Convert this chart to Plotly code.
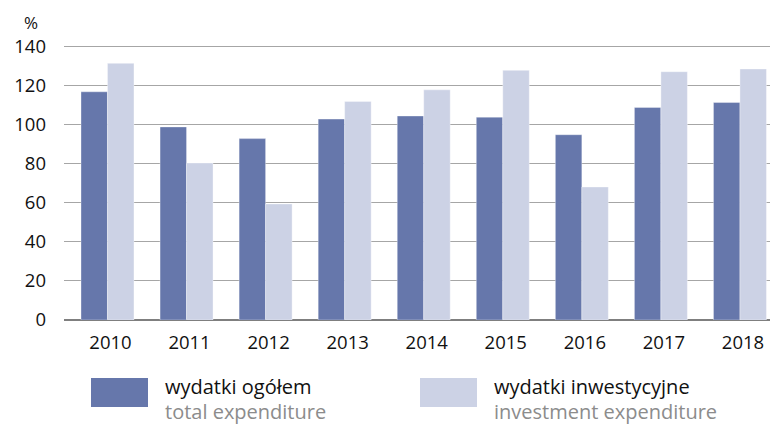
import plotly.graph_objects as go

years = ["2010", "2011", "2012", "2013", "2014", "2015", "2016", "2017", "2018"]
total_exp = [117, 99, 93, 103, 104.6, 104, 95, 109, 111.5]
invest_exp = [131.6, 80.5, 59.5, 112, 118, 128, 68.2, 127.3, 128.7]
y_ticks = [0, 20, 40, 60, 80, 100, 120, 140]

DARK = "#6677ab"
LIGHT = "#ccd2e5"
FONT = "Open Sans, Noto Sans, sans-serif"

W, H = 770, 424
L, R, T, B = 64, 0, 45, 104
PW, PH = W - L - R, H - T - B


def px(x):
    return (x - L) / PW


def py(y):
    return (H - B - y) / PH


fig = go.Figure()
fig.add_trace(go.Bar(x=years, y=total_exp, marker=dict(color=DARK, line=dict(color="rgba(255,255,255,0.35)", width=1)),
                     name="wydatki ogółem", showlegend=False))
fig.add_trace(go.Bar(x=years, y=invest_exp, marker=dict(color=LIGHT, line=dict(color="rgba(255,255,255,0.35)", width=1)),
                     name="wydatki inwestycyjne", showlegend=False))

shapes = []
annotations = [
    dict(text="%", x=px(31), y=py(23), xref="paper", yref="paper", showarrow=False,
         font=dict(size=17, color="#111", family=FONT), xanchor="center", yanchor="middle"),
]

legend_items = [
    (91, DARK, "wydatki ogółem", "total expenditure"),
    (420, LIGHT, "wydatki inwestycyjne", "investment expenditure"),
]
for x0, col, pl, en in legend_items:
    shapes.append(dict(type="rect", xref="paper", yref="paper", x0=px(x0), x1=px(x0 + 57),
                       y0=py(407), y1=py(378), fillcolor=col, line=dict(width=0), layer="above"))
    annotations.append(dict(text=pl, x=px(x0 + 72), y=py(386), xref="paper", yref="paper", showarrow=False,
                            xanchor="left", yanchor="middle", font=dict(size=20, color="#111", family=FONT)))
    annotations.append(dict(text=en, x=px(x0 + 72), y=py(411), xref="paper", yref="paper", showarrow=False,
                            xanchor="left", yanchor="middle", font=dict(size=20, color="#8c8c8c", family=FONT)))

fig.update_layout(
    width=W, height=H,
    margin=dict(l=L, r=R, t=T, b=B, pad=0),
    paper_bgcolor="white", plot_bgcolor="white",
    barmode="group", bargap=0.33, bargroupgap=0,
    font=dict(family=FONT, size=18, color="#111"),
    shapes=shapes, annotations=annotations,
    xaxis=dict(range=[-0.55, 8.38], showgrid=False, showline=False, zeroline=False,
               ticks="", tickfont=dict(size=18.5), ticklabelshift=3, ticklabelstandoff=9, fixedrange=True),
    yaxis=dict(range=[0, 141], tickvals=y_ticks, showgrid=True, gridcolor="#a6a6a6", gridwidth=1,
               zeroline=True, zerolinecolor="#7f7f7f", zerolinewidth=1.5, showline=False,
               ticks="", tickfont=dict(size=18.5), ticklabelstandoff=17, fixedrange=True),
)

fig.write_html("out.html")
